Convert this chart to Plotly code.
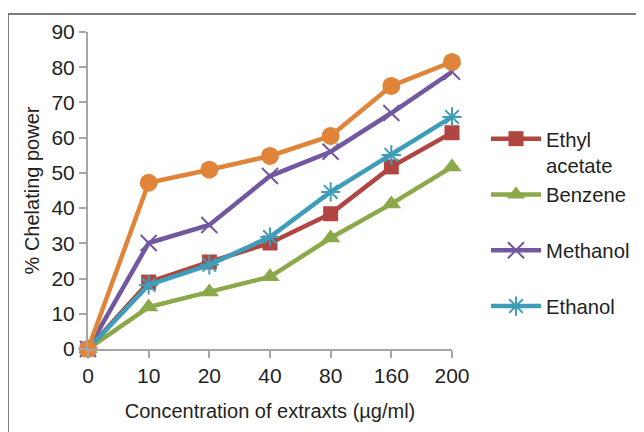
import plotly.graph_objects as go

concentrations = ["0", "10", "20", "40", "80", "160", "200"]
ethyl_acetate = [0, 19.0, 24.7, 30.1, 38.4, 51.7, 61.4]
benzene = [0, 11.9, 16.2, 20.5, 31.5, 41.2, 51.7]
methanol = [0, 30.1, 35.2, 49.1, 56.0, 67.0, 78.7]
ethanol = [0, 18.2, 23.9, 31.8, 44.6, 55.1, 65.9]
aqueous = [0, 47.2, 50.9, 54.8, 60.5, 74.7, 81.5]

FONT = "Liberation Sans, Arial, sans-serif"
TXT = "#1F1F1F"
fig = go.Figure()

fig.add_trace(go.Scatter(
    x=concentrations, y=ethyl_acetate, name="Ethyl<br>acetate", mode="lines+markers",
    line=dict(color="#B04541", width=4.5),
    marker=dict(symbol="square", size=15, color="#B04541"), cliponaxis=False,
    legendgroup="a"))
fig.add_trace(go.Scatter(
    x=concentrations, y=benzene, name="Benzene<br> ", mode="lines+markers",
    line=dict(color="#8BA84A", width=4.5),
    marker=dict(symbol="triangle-up", size=17, color="#8BA84A"), cliponaxis=False,
    legendgroup="b"))
fig.add_trace(go.Scatter(
    x=concentrations, y=methanol, name="Methanol<br> ", mode="lines+markers",
    line=dict(color="#7158A0", width=4.5),
    marker=dict(symbol="x-thin-open", size=16, color="#7158A0", line=dict(width=2, color="#7158A0")),
    cliponaxis=False, legendgroup="c"))
fig.add_trace(go.Scatter(
    x=concentrations, y=ethanol, name="Ethanol<br> ", mode="lines+markers",
    line=dict(color="#3E9DB8", width=4.5),
    marker=dict(symbol="asterisk-open", size=16, color="#3E9DB8", line=dict(width=2, color="#3E9DB8")),
    cliponaxis=False, legendgroup="d"))
fig.add_trace(go.Scatter(
    x=concentrations, y=aqueous, name="Aqueous", mode="lines+markers", showlegend=False,
    line=dict(color="#E0843A", width=4.5),
    marker=dict(symbol="circle", size=18, color="#E0843A"), cliponaxis=False))

# page body adds an 8px offset; figure coordinates = window coordinates - 8
OFF = 8
L, R, T, B = 88 - OFF, 452 - OFF, 32 - OFF, 349 - OFF
W, H = 644, 432
pw, ph = R - L, B - T

def px_x(p):
    return (p - OFF - L) / pw

def px_y(p):
    return (B - (p - OFF)) / ph

fig.update_layout(
    width=W, height=H,
    margin=dict(l=L, r=W - R, t=T, b=H - B, pad=0),
    paper_bgcolor="white", plot_bgcolor="white",
    font=dict(family=FONT, size=21, color=TXT),
    xaxis=dict(
        type="category", range=[0, 6], showgrid=False, zeroline=False,
        showline=True, linecolor="#A6A6A6", linewidth=2,
        ticks="outside", ticklen=7, tickcolor="#A6A6A6", tickwidth=2,
        tickfont=dict(size=21, color=TXT),
        title=dict(text="Concentration of extraxts (µg/ml)", font=dict(size=20, color=TXT), standoff=18),
    ),
    yaxis=dict(
        range=[0, 90], dtick=10, showgrid=False, zeroline=False,
        showline=True, linecolor="#A6A6A6", linewidth=2,
        ticks="outside", ticklen=7, tickcolor="#A6A6A6", tickwidth=2,
        tickfont=dict(size=21, color=TXT),
        title=dict(text="% Chelating power", font=dict(size=20, color=TXT), standoff=6),
    ),
    legend=dict(
        x=px_x(486), y=px_y(119), xanchor="left", yanchor="top",
        font=dict(size=20.3, color=TXT), valign="top",
        traceorder="grouped", tracegroupgap=0, itemwidth=50,
        bgcolor="rgba(0,0,0,0)",
    ),
    shapes=[
        dict(type="line", xref="paper", yref="paper", x0=px_x(8), x1=px_x(660), y0=px_y(14), y1=px_y(14),
             line=dict(color="#555555", width=1.5)),
        dict(type="line", xref="paper", yref="paper", x0=px_x(8), x1=px_x(8), y0=px_y(14), y1=px_y(450),
             line=dict(color="#555555", width=1.5)),
    ],
)

fig.write_html("out.html")
